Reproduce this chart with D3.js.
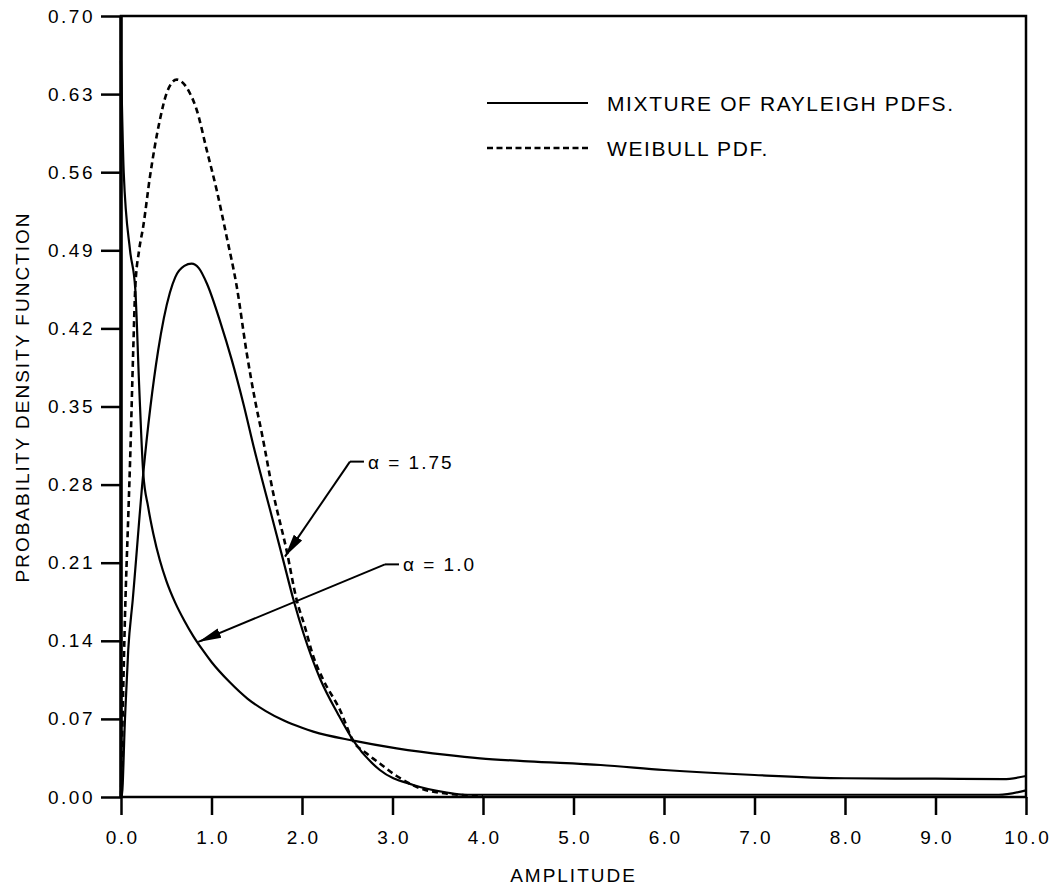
<!DOCTYPE html>
<html>
<head>
<meta charset="utf-8">
<script src="https://cdn.jsdelivr.net/npm/d3@7"></script>
<style>
  html, body { margin: 0; padding: 0; background: #fff; }
  svg { display: block; }
  text { font-family: "Liberation Sans", Arial, Helvetica, sans-serif; fill: #000; }
</style>
</head>
<body>
<svg id="chart" width="1054" height="892"></svg>
<script>
// ---------------- data ----------------
const xTicks = [0, 1, 2, 3, 4, 5, 6, 7, 8, 9, 10];
const xTickLabels = ["0.0","1.0","2.0","3.0","4.0","5.0","6.0","7.0","8.0","9.0","10.0"];
const yTicks = [0, 0.07, 0.14, 0.21, 0.28, 0.35, 0.42, 0.49, 0.56, 0.63, 0.70];
const yTickLabels = ["0.00","0.07","0.14","0.21","0.28","0.35","0.42","0.49","0.56","0.63","0.70"];

// Mixture of Rayleigh pdfs, alpha = 1.0 (solid, decreasing)
const mixA1X = [0, 0.03, 0.10, 0.158, 0.20, 0.246, 0.30, 0.357, 0.43, 0.5, 0.6, 0.7, 0.8, 0.9, 1.0, 1.2, 1.4, 1.6, 1.8, 2.0, 2.125, 2.567, 3.046, 3.6, 3.967, 4.5, 5.3, 6.0, 7.0, 8.0, 9.0, 9.75, 10];
const mixA1Y = [0.66, 0.56, 0.49, 0.455, 0.37, 0.29, 0.26, 0.236, 0.212, 0.194, 0.174, 0.158, 0.144, 0.132, 0.121, 0.103, 0.088, 0.077, 0.0685, 0.062, 0.0586, 0.0505, 0.0436, 0.0377, 0.0347, 0.032, 0.0287, 0.0242, 0.0197, 0.0168, 0.0164, 0.016, 0.0188];

// Mixture of Rayleigh pdfs, alpha = 1.75 (solid, peaked)
const mixA175X = [0, 0.008, 0.044, 0.08, 0.13, 0.246, 0.41, 0.54, 0.6, 0.7, 0.78, 0.86, 0.95, 1.1, 1.223, 1.351, 1.475, 1.668, 1.79, 1.905, 2.015, 2.2, 2.4, 2.567, 2.86, 3.23, 3.6, 3.8, 4.5, 6, 8, 9.7, 10];
const mixA175Y = [0, 0, 0.07, 0.132, 0.177, 0.29, 0.40, 0.452, 0.466, 0.476, 0.478, 0.474, 0.46, 0.425, 0.392, 0.353, 0.311, 0.251, 0.213, 0.177, 0.147, 0.106, 0.074, 0.0505, 0.0242, 0.0108, 0.004, 0.002, 0.002, 0.002, 0.002, 0.002, 0.006];

// Weibull pdf (dashed)
const weibullX = [0, 0.044, 0.08, 0.10, 0.135, 0.158, 0.2, 0.245, 0.32, 0.43, 0.505, 0.615, 0.76, 0.836, 0.947, 1.057, 1.168, 1.278, 1.389, 1.48, 1.556, 1.683, 1.83, 1.94, 2.03, 2.125, 2.235, 2.42, 2.567, 2.715, 2.86, 3.046, 3.3, 3.6, 4.0];
const weibullY = [0, 0.162, 0.251, 0.30, 0.40, 0.457, 0.49, 0.511, 0.556, 0.607, 0.631, 0.643, 0.631, 0.616, 0.580, 0.544, 0.502, 0.458, 0.398, 0.356, 0.326, 0.272, 0.221, 0.177, 0.153, 0.126, 0.105, 0.078, 0.050, 0.039, 0.030, 0.0188, 0.008, 0.003, 0.001];

const legendLabels = ["MIXTURE OF RAYLEIGH PDFS.", "WEIBULL PDF."];
const annotLabels = ["α = 1.75", "α = 1.0"];
const annotTips = [[1.812, 0.2155], [0.854, 0.139]];
const annotElbows = [[2.53, 0.3006], [2.917, 0.2085]];

// ---------------- layout ----------------
const svg = d3.select("#chart");
const mLeft = 121, mRight = 1026, mTop = 16, mBottom = 797;
const x = d3.scaleLinear().domain([0, 10]).range([mLeft, mRight]);
const y = d3.scaleLinear().domain([0, 0.70]).range([mBottom, mTop]);

const defs = svg.append("defs");
defs.append("marker")
  .attr("id", "arrow")
  .attr("markerUnits", "userSpaceOnUse")
  .attr("viewBox", "0 -6 24 12")
  .attr("markerWidth", 24).attr("markerHeight", 12)
  .attr("refX", 23).attr("refY", 0)
  .attr("orient", "auto")
  .append("path").attr("d", "M0,-5 L23,0 L0,5 Z").attr("fill", "#000");

// axes
const yAxis = d3.axisLeft(y).tickValues(yTicks)
  .tickFormat((d, i) => yTickLabels[i]).tickSize(20).tickSizeOuter(0).tickPadding(6);
const gy = svg.append("g").attr("transform", `translate(${mLeft},0)`).call(yAxis);
gy.select(".domain").remove();
gy.selectAll(".tick line").attr("stroke", "#000").attr("stroke-width", 2.5);
gy.selectAll(".tick text")
  .attr("font-size", 19).attr("letter-spacing", "2.5px")
  .attr("font-family", "Liberation Sans, Arial, sans-serif")
  .attr("fill", "#000");

const xAxis = d3.axisBottom(x).tickValues(xTicks)
  .tickFormat((d, i) => xTickLabels[i]).tickSize(18).tickSizeOuter(0).tickPadding(16);
const gx = svg.append("g").attr("transform", `translate(0,${mBottom})`).call(xAxis);
gx.select(".domain").remove();
gx.selectAll(".tick line").attr("stroke", "#000").attr("stroke-width", 2.5);
gx.selectAll(".tick text")
  .attr("font-size", 19).attr("letter-spacing", "2.5px").attr("dx", "1.2")
  .attr("font-family", "Liberation Sans, Arial, sans-serif")
  .attr("fill", "#000");

// frame
svg.append("rect")
  .attr("x", x(0)).attr("y", y(0.70))
  .attr("width", x(10) - x(0)).attr("height", y(0) - y(0.70))
  .attr("fill", "none").attr("stroke", "#000").attr("stroke-width", 2.5);
svg.append("line")
  .attr("x1", x(0)).attr("x2", x(0)).attr("y1", y(0.70)).attr("y2", y(0))
  .attr("stroke", "#000").attr("stroke-width", 3.5);

// curves
const line = d3.line().x(d => x(d[0])).y(d => y(d[1])).curve(d3.curveMonotoneX);
const zip = (xs, ys) => xs.map((v, i) => [v, ys[i]]);

svg.append("path").datum(zip(mixA1X, mixA1Y)).attr("d", line)
  .attr("fill", "none").attr("stroke", "#000").attr("stroke-width", 2.2);
svg.append("path").datum(zip(mixA175X, mixA175Y)).attr("d", line)
  .attr("fill", "none").attr("stroke", "#000").attr("stroke-width", 2.2);
svg.append("path").datum(zip(weibullX, weibullY)).attr("d", line)
  .attr("fill", "none").attr("stroke", "#000").attr("stroke-width", 2.6)
  .attr("stroke-dasharray", "6,4");

// legend
const legY = [103, 148];
const legDash = [null, "6,3.5"];
legendLabels.forEach((lab, i) => {
  svg.append("line")
    .attr("x1", 487).attr("x2", 588).attr("y1", legY[i]).attr("y2", legY[i])
    .attr("stroke", "#000").attr("stroke-width", i ? 2.4 : 2)
    .attr("stroke-dasharray", legDash[i]);
  svg.append("text")
    .attr("x", 607).attr("y", legY[i] + 7.5)
    .attr("font-size", 21).attr("letter-spacing", "1.6px")
    .text(lab);
});

// annotations
annotLabels.forEach((lab, i) => {
  const [tx, ty] = annotTips[i];
  const [ex, ey] = annotElbows[i];
  svg.append("line")
    .attr("x1", x(ex)).attr("y1", y(ey)).attr("x2", x(tx)).attr("y2", y(ty))
    .attr("stroke", "#000").attr("stroke-width", 2)
    .attr("marker-end", "url(#arrow)");
  svg.append("line")
    .attr("x1", x(ex)).attr("y1", y(ey)).attr("x2", x(ex) + 14).attr("y2", y(ey))
    .attr("stroke", "#000").attr("stroke-width", 2);
  svg.append("text")
    .attr("x", x(ex) + 18).attr("y", y(ey) + 7)
    .attr("font-size", 19).attr("letter-spacing", "2px")
    .text(lab);
});

// axis titles
svg.append("text")
  .attr("x", (mLeft + mRight) / 2).attr("y", 882)
  .attr("text-anchor", "middle")
  .attr("font-size", 19).attr("letter-spacing", "2px")
  .text("AMPLITUDE");
svg.append("text")
  .attr("transform", "translate(29,397) rotate(-90)")
  .attr("text-anchor", "middle")
  .attr("font-size", 19).attr("letter-spacing", "2px")
  .text("PROBABILITY DENSITY FUNCTION");
</script>
</body>
</html>
